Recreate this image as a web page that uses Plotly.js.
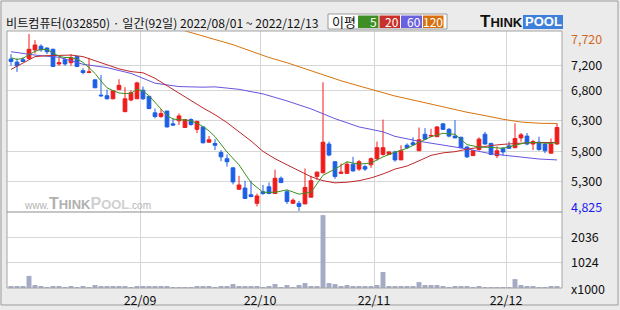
<!DOCTYPE html>
<html><head><meta charset="utf-8">
<script src="https://cdn.plot.ly/plotly-3.0.1.min.js"></script>
<style>html,body{margin:0;padding:0;background:#ebebeb;}#chart{width:620px;height:310px;}</style>
</head><body><div id="chart"></div>
<script>
// ---- data (daily, 2022/08/01 ~ 2022/12/13, 92 trading days) ----
const openP  = [7310,7260,7300,7320,7460,7520,7490,7470,7230,7300,7250,7350,7120,7090,6970,6720,6710,6660,6810,6450,6640,6660,6800,6700,6430,6370,6460,6250,6300,6190,6320,6160,6200,5950,5930,5780,5680,5530,5180,5200,5090,4950,5140,5220,5110,5360,5140,4950,4950,4940,5050,5390,5450,5920,5630,5440,5440,5590,5510,5550,5580,5680,5750,5750,5790,5660,5900,5940,5810,6080,6050,6040,6250,6160,6050,6030,5870,5730,5830,6080,5930,5730,5850,5890,5860,6020,6050,5920,5950,5920,5770,5920];
const highP  = [7390,7320,7340,7720,7620,7550,7500,7480,7340,7330,7390,7350,7160,7330,6970,7050,6810,6800,6980,6850,6800,6940,6860,6700,6500,6490,6460,6340,6420,6330,6340,6300,6200,6050,6000,5820,5750,5540,5400,5320,5320,5110,5250,5290,5500,5390,5170,5030,4990,5520,5400,5470,6930,5960,5640,5600,5630,5710,5660,5580,5700,5960,6320,5800,5810,5900,5930,6030,6190,6180,6170,6210,6260,6180,6310,6040,5890,5820,6030,6120,5940,5880,5870,5960,6260,6100,6100,5990,6040,5930,6010,6260];
const lowP   = [7200,7100,7260,7300,7400,7430,7390,7180,7200,7200,7200,7180,7060,7080,6840,6690,6650,6650,6800,6440,6620,6660,6640,6490,6340,6350,6190,6220,6230,6190,6220,6100,5930,5940,5820,5640,5550,5260,5170,5030,5050,4900,5090,5100,5110,5280,4940,4940,4825,4940,5050,5330,5440,5720,5350,5430,5430,5470,5480,5480,5530,5650,5730,5740,5630,5660,5840,5890,5810,5990,6030,6040,6150,6030,6020,5850,5690,5730,5810,5910,5740,5690,5730,5840,5850,5960,5900,5820,5810,5770,5770,5910];
const closeP = [7270,7200,7270,7470,7540,7460,7430,7190,7250,7230,7330,7190,7090,7100,6840,6710,6660,6790,6880,6660,6760,6920,6660,6500,6370,6420,6200,6230,6380,6320,6240,6290,5940,5990,5900,5710,5630,5300,5250,5030,5060,5070,5110,5110,5360,5290,4980,5000,4900,5210,5320,5460,5950,5740,5390,5460,5590,5480,5630,5510,5680,5860,5860,5790,5660,5810,5860,5910,5990,6000,6060,6200,6160,6050,6020,5860,5710,5810,6000,5920,5750,5810,5790,5850,6010,6070,5920,5960,5830,5810,5920,6190];
const volumeK = [80,80,80,490,120,80,40,80,80,40,80,40,80,40,120,80,80,80,80,80,40,80,80,80,80,80,80,40,40,40,40,80,80,80,40,80,80,160,80,80,80,80,40,80,160,40,120,40,120,200,80,80,2950,200,160,80,120,80,80,80,80,120,650,80,80,80,80,80,240,120,120,120,80,40,80,80,80,40,80,40,40,40,40,40,360,120,80,80,40,40,80,80];

// moving averages (trading-day index, price)
const ma5Idx  = [0,1,2,3,4,5,6,7,8,9,10,11,12,13,14,15,16,17,18,19,20,21,22,23,24,25,26,27,28,29,30,31,32,33,34,36,38,40,42,44,46,48,50,52,54,56,58,60,62,64,66,68,70,72,74,76,78,80,82,84,86,88,90,91];
const ma5Val  = [7330,7305,7320,7385,7435,7470,7465,7405,7355,7335,7335,7310,7255,7170,7075,6950,6840,6795,6755,6745,6750,6815,6785,6710,6600,6480,6385,6330,6315,6315,6300,6260,6205,6135,6040,5790,5580,5290,5130,5130,5170,5100,5130,5410,5510,5630,5590,5610,5710,5785,5850,5945,6040,6095,6080,5910,5870,5865,5850,5900,5945,5940,5930,5945];
const ma20Idx = [0,2,4,6,8,10,12,14,16,18,20,22,24,26,28,30,32,34,36,38,40,42,44,46,48,50,52,54,56,58,60,62,64,66,68,70,72,74,76,78,80,82,84,86,88,90,91];
const ma20Val = [7140,7250,7350,7365,7365,7375,7350,7285,7215,7150,7105,7085,6995,6875,6750,6625,6510,6400,6270,6120,5970,5800,5680,5580,5480,5385,5320,5285,5295,5320,5365,5430,5510,5560,5645,5735,5775,5795,5835,5870,5895,5915,5930,5940,5945,5945,5945];
const ma60Idx = [0,4,8,12,16,20,24,28,32,34,38,42,46,50,54,58,62,64,68,72,76,80,84,88,91];
const ma60Val = [7430,7375,7340,7225,7170,7075,6915,6860,6850,6855,6815,6740,6625,6495,6335,6200,6120,6045,5965,5905,5840,5760,5720,5675,5660];
const ma120Idx = [28,31,34,37,40,43,46,49,52,55,58,61,64,67,70,73,76,79,82,85,88,91];
const ma120Val = [7800,7710,7630,7545,7435,7335,7250,7150,7050,6955,6870,6785,6705,6640,6570,6500,6440,6385,6325,6280,6260,6255];

const monthLabels = ['22/09','22/10','22/11','22/12'];
const monthFirstDay = [22,42,61,83];
const priceTicks = [5300,5800,6300,6800,7200];
const volTicks = [1024,2036];
const priceMax = 7720, priceMin = 4825;

// ---- chart ----
const dayX = closeP.map((_, i) => i);
const FONT = '"Noto Sans CJK KR", "Noto Sans", sans-serif';
const LOGO = '"Liberation Sans", Arial, sans-serif';
const RED = '#f01c1c', BLUE = '#1c5fe6';
const fmt = v => v.toLocaleString('en-US');

// plot-area pixel geometry (for layout decorations)
const L = 7, R = 562, T = 31, B = 288;
const px = x => (x - L) / (R - L);
const py = y => (B - y) / (B - T);
const volFrac = (B - 212) / (B - T);

const traces = [
  {type:'bar', x:dayX, y:volumeK, xaxis:'x', yaxis:'y2', marker:{color:'#a3abc5', line:{width:0}}, width:0.82, hoverinfo:'skip'},
  {type:'candlestick', x:dayX, open:openP, high:highP, low:lowP, close:closeP, xaxis:'x', yaxis:'y',
   increasing:{line:{color:RED, width:1}, fillcolor:RED},
   decreasing:{line:{color:BLUE, width:1}, fillcolor:BLUE},
   whiskerwidth:0, hoverinfo:'skip'},
  {type:'scatter', mode:'lines', x:ma120Idx, y:ma120Val, xaxis:'x', yaxis:'y', line:{color:'#d9730d', width:1}, hoverinfo:'skip'},
  {type:'scatter', mode:'lines', x:ma60Idx, y:ma60Val, xaxis:'x', yaxis:'y', line:{color:'#6655dd', width:1}, hoverinfo:'skip'},
  {type:'scatter', mode:'lines', x:ma20Idx, y:ma20Val, xaxis:'x', yaxis:'y', line:{color:'#c0282a', width:1}, hoverinfo:'skip'},
  {type:'scatter', mode:'lines', x:ma5Idx, y:ma5Val, xaxis:'x', yaxis:'y', line:{color:'#3d9020', width:1}, hoverinfo:'skip'}
];

const shapes = [
  {type:'rect', xref:'paper', yref:'paper', x0:px(1), x1:px(618), y0:py(305), y1:py(1), line:{color:'#9c9c9c', width:1}, fillcolor:'rgba(0,0,0,0)', layer:'below'},
  {type:'rect', xref:'paper', yref:'paper', x0:0, x1:1, y0:0, y1:1, line:{color:'#a4a4a4', width:1}, layer:'above'},
  {type:'line', xref:'paper', yref:'paper', x0:0, x1:1, y0:volFrac, y1:volFrac, line:{color:'#8c8c8c', width:1}, layer:'above'},
  // legend box
  {type:'rect', xref:'paper', yref:'paper', x0:px(328), x1:px(447), y0:py(29), y1:py(14), line:{color:'#9a9a9a', width:1}, fillcolor:'#ffffff'},
  {type:'rect', xref:'paper', yref:'paper', x0:px(358), x1:px(378.5), y0:py(28), y1:py(15.5), line:{width:0}, fillcolor:'#3e8e24'},
  {type:'rect', xref:'paper', yref:'paper', x0:px(379.5), x1:px(400), y0:py(28), y1:py(15.5), line:{width:0}, fillcolor:'#c8302a'},
  {type:'rect', xref:'paper', yref:'paper', x0:px(401), x1:px(422), y0:py(28), y1:py(15.5), line:{width:0}, fillcolor:'#6a60e0'},
  {type:'rect', xref:'paper', yref:'paper', x0:px(423), x1:px(443.5), y0:py(28), y1:py(15.5), line:{width:0}, fillcolor:'#d8700e'},
  // logo POOL background
  {type:'rect', xref:'paper', yref:'paper', x0:px(523), x1:px(563), y0:py(29), y1:py(15), line:{width:0}, fillcolor:'#3f80dc'}
];

const ann = (x, y, text, opts) => Object.assign({xref:'paper', yref:'paper', x:px(x), y:py(y), text:text, showarrow:false, xanchor:'left', yanchor:'middle', borderpad:0, font:{family:FONT, size:12, color:'#111'}}, opts || {});

const annotations = [
  ann(5, 22.5, '비트컴퓨터(032850) · 일간(92일) 2022/08/01 ~ 2022/12/13', {font:{family:FONT, size:12.1, color:'#111'}}),
  ann(331, 21.5, '이평', {font:{family:FONT, size:13, color:'#111'}}),
  ann(378, 22, '5', {xanchor:'right', font:{family:FONT, size:12, color:'#fff'}}),
  ann(399.5, 22, '20', {xanchor:'right', font:{family:FONT, size:12, color:'#fff'}}),
  ann(421.5, 22, '60', {xanchor:'right', font:{family:FONT, size:12, color:'#fff'}}),
  ann(443.5, 22, '120', {xanchor:'right', font:{family:FONT, size:12, color:'#fff'}}),
  ann(479, 22, 'T<span style="font-size:13px">HINK</span>', {font:{family:LOGO, size:17, color:'#111', weight:'bold'}}),
  ann(524, 22, 'POOL', {font:{family:LOGO, size:13, color:'#fff', weight:'bold'}}),
  ann(23, 203, '<span style="font-size:10px;color:#b4b4b4">www.</span><b>T<span style="font-size:13px">HINK</span></b><b style="color:#d0d0d0">P<span style="font-size:13px">OOL</span></b><span style="font-size:10px;color:#b4b4b4">.com</span>', {font:{family:LOGO, size:16, color:'#b0b0b0'}}),
  {xref:'paper', yref:'y', x:1, y:priceMax, text:fmt(priceMax), showarrow:false, xanchor:'left', yanchor:'middle', xshift:8, yshift:-4.5, borderpad:0, font:{family:FONT, size:12.5, color:'#d2691e'}},
  {xref:'paper', yref:'y', x:1, y:priceMin, text:fmt(priceMin), showarrow:false, xanchor:'left', yanchor:'middle', xshift:8, yshift:4, borderpad:0, font:{family:FONT, size:12.5, color:'#1a1aee'}},
  {xref:'paper', yref:'y2', x:1, y:0, text:'x1000', showarrow:false, xanchor:'left', yanchor:'middle', xshift:8, borderpad:0, font:{family:FONT, size:12.5, color:'#111'}}
];

const layout = {
  width:620, height:310,
  margin:{l:L, r:620-R, t:T, b:310-B},
  paper_bgcolor:'#ebebeb', plot_bgcolor:'#ffffff',
  showlegend:false, dragmode:false, boxgap:0.12,
  font:{family:FONT, size:12, color:'#111'},
  xaxis:{anchor:'y2', range:[-0.667, 91.833], rangeslider:{visible:false},
         tickmode:'array', tickvals:monthFirstDay.map(d => d - 0.5), ticktext:monthLabels,
         showgrid:true, gridcolor:'#d6d6d6', gridwidth:1, zeroline:false, showline:false, ticks:'', ticklabelstandoff:3,
         tickfont:{family:FONT, size:12.5, color:'#111'}},
  yaxis:{domain:[volFrac, 1], anchor:'x', side:'right', range:[4808, 7769],
         tickmode:'array', tickvals:priceTicks, ticktext:priceTicks.map(fmt),
         showgrid:true, gridcolor:'#d6d6d6', zeroline:false, showline:false, ticks:'', ticklabelstandoff:8,
         tickfont:{family:FONT, size:12.5, color:'#111'}},
  yaxis2:{domain:[0, volFrac], anchor:'x', side:'right', range:[0, 3076],
          tickmode:'array', tickvals:volTicks, ticktext:volTicks.map(String),
          showgrid:true, gridcolor:'#d6d6d6', zeroline:false, showline:false, ticks:'', ticklabelstandoff:8,
          tickfont:{family:FONT, size:12.5, color:'#111'}},
  shapes:shapes, annotations:annotations
};

Plotly.newPlot('chart', traces, layout, {staticPlot:true, displayModeBar:false});
</script></body></html>
